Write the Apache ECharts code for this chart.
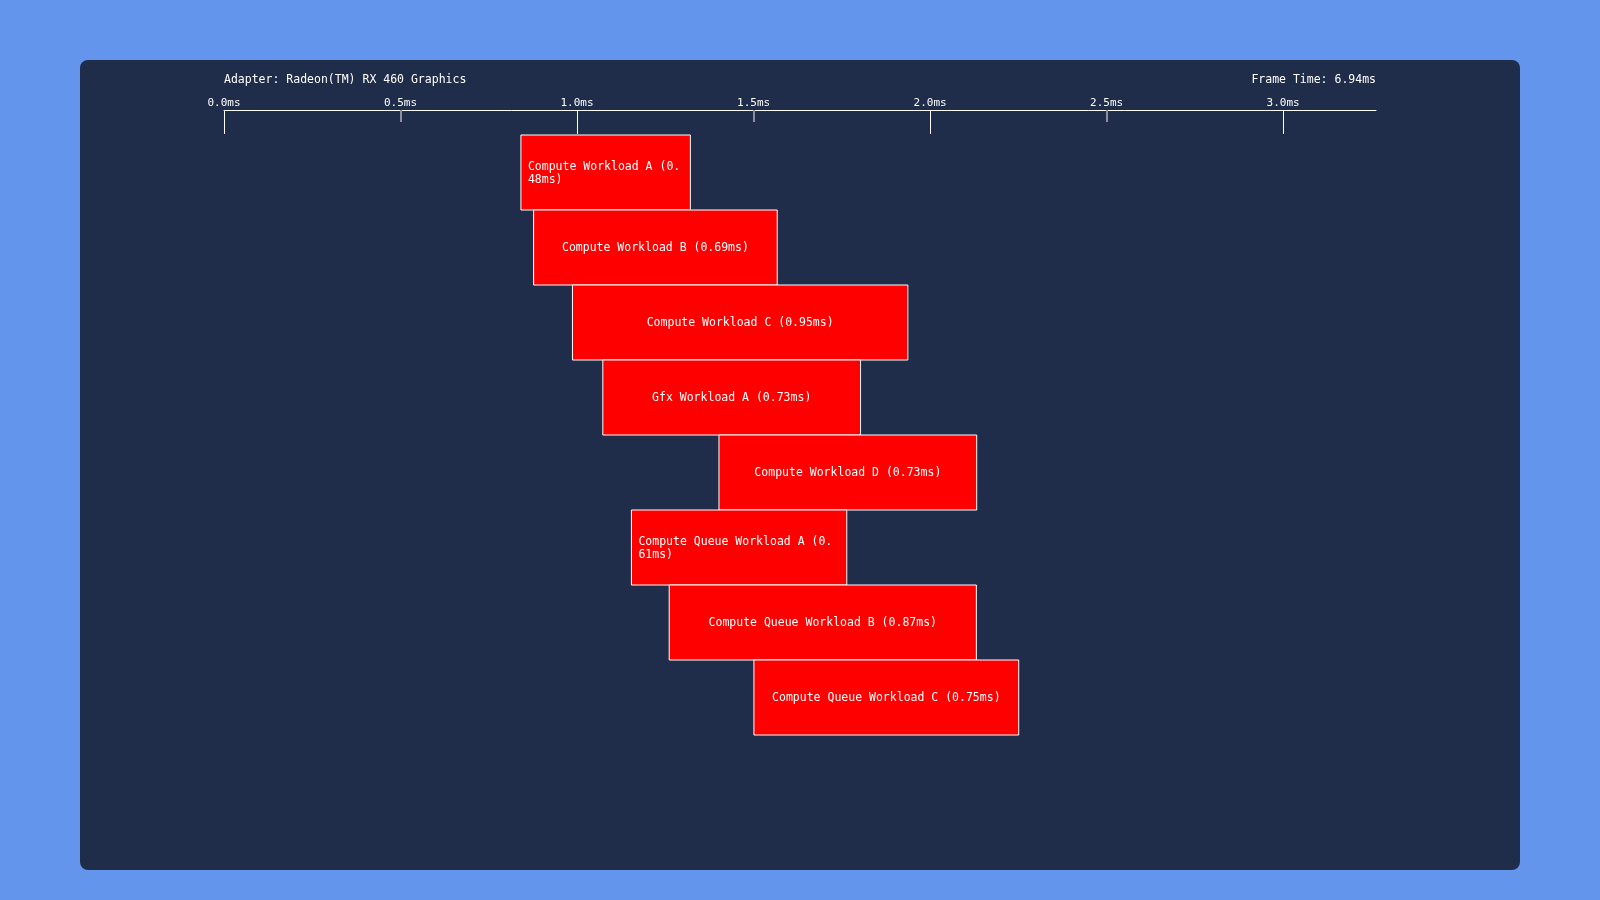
<!DOCTYPE html>
<html>
<head>
<meta charset="utf-8">
<style>
  html, body { margin: 0; padding: 0; background: #6495ED; }
  #chart { width: 1600px; height: 900px; }
</style>
<script src="https://cdn.jsdelivr.net/npm/echarts@6/dist/echarts.min.js"></script>
</head>
<body>
<div id="chart"></div>
<script>
// ---- data ----
const adapterName = 'Adapter: Radeon(TM) RX 460 Graphics';
const frameTimeText = 'Frame Time: 6.94ms';
const workloads = ['Compute Workload A', 'Compute Workload B', 'Compute Workload C', 'Gfx Workload A',
  'Compute Workload D', 'Compute Queue Workload A', 'Compute Queue Workload B', 'Compute Queue Workload C'];
const startMs = [0.841, 0.877, 0.987, 1.073, 1.402, 1.154, 1.261, 1.501];
const durationMs = [0.48, 0.69, 0.95, 0.73, 0.73, 0.61, 0.87, 0.75];
const axisMax = 3.263;
const labelTicks = [0, 0.5, 1.0, 1.5, 2.0, 2.5, 3.0];
const majorTicks = [0, 1.0, 2.0, 3.0];
const minorTicks = [0.5, 1.5, 2.5];

const FONT = '"DejaVu Sans Mono", "Liberation Mono", monospace';
const measureCtx = document.createElement('canvas').getContext('2d');
measureCtx.font = '11.5px ' + FONT;

const chart = echarts.init(document.getElementById('chart'), null, { renderer: 'canvas' });

const seriesData = workloads.map((n, i) => [i, startMs[i], durationMs[i]]);

const option = {
  backgroundColor: '#6495ED',
  animation: false,
  graphic: [
    { type: 'rect', z: -10, shape: { x: 80, y: 60, width: 1440, height: 810, r: 8 }, style: { fill: '#1F2D4A' } },
    { type: 'text', z: 10, x: 224, y: 80.5, style: { text: adapterName, fill: '#FFFFFF', font: '11.5px ' + FONT, align: 'left', verticalAlign: 'middle' } },
    { type: 'text', z: 10, x: 1376, y: 80.5, style: { text: frameTimeText, fill: '#FFFFFF', font: '11.5px ' + FONT, align: 'right', verticalAlign: 'middle' } }
  ],
  grid: { left: 224, width: 1152, top: 135, height: 600, containLabel: false },
  xAxis: [
    {
      type: 'value', min: 0, max: axisMax, position: 'top', offset: 25,
      axisLine: { show: true, lineStyle: { color: '#FFFFFF', width: 1 } },
      axisTick: { show: true, inside: true, length: 24, customValues: majorTicks, lineStyle: { color: '#FFFFFF', width: 1 } },
      axisLabel: { show: true, customValues: labelTicks, margin: 1, color: '#FFFFFF', fontFamily: FONT, fontSize: 11,
        formatter: v => v.toFixed(1) + 'ms' },
      splitLine: { show: false }
    },
    {
      type: 'value', min: 0, max: axisMax, position: 'top', offset: 25,
      axisLine: { show: false },
      axisTick: { show: true, inside: true, length: 12, customValues: minorTicks, lineStyle: { color: '#8A909C', width: 2 } },
      axisLabel: { show: false },
      splitLine: { show: false }
    }
  ],
  yAxis: {
    type: 'category', data: workloads, inverse: true, show: false, boundaryGap: true
  },
  series: [{
    type: 'custom',
    xAxisIndex: 0,
    data: seriesData,
    encode: { x: [1, 2], y: 0 },
    renderItem: function (params, api) {
      const idx = api.value(0);
      const s = api.value(1);
      const d = api.value(2);
      const p0 = api.coord([s, idx]);
      const p1 = api.coord([s + d, idx]);
      const h = api.size([0, 1])[1];
      const x = p0[0], w = p1[0] - p0[0], yc = p0[1] + 1;
      const text = workloads[idx] + ' (' + d.toFixed(2) + 'ms)';
      const pad = 7;
      const avail = w - 2 * pad - 2;
      const tw = measureCtx.measureText(text).width;
      let textEl;
      if (tw > avail) {
        textEl = { type: 'text', z2: 10, style: { text: text, x: x + pad, y: yc, width: avail, overflow: 'breakAll',
          align: 'left', verticalAlign: 'middle', lineHeight: 13.3, fill: '#FFFFFF', font: '11.5px ' + FONT } };
      } else {
        textEl = { type: 'text', z2: 10, style: { text: text, x: x + w / 2, y: yc, align: 'center', verticalAlign: 'middle',
          fill: '#FFFFFF', font: '11.5px ' + FONT } };
      }
      return {
        type: 'group',
        children: [
          { type: 'rect', shape: { x: x, y: p0[1] - h / 2, width: w, height: h },
            style: { fill: '#FF0000', stroke: '#FFFFFF', lineWidth: 1 } },
          textEl
        ]
      };
    }
  }]
};
chart.setOption(option);
</script>
</body>
</html>
